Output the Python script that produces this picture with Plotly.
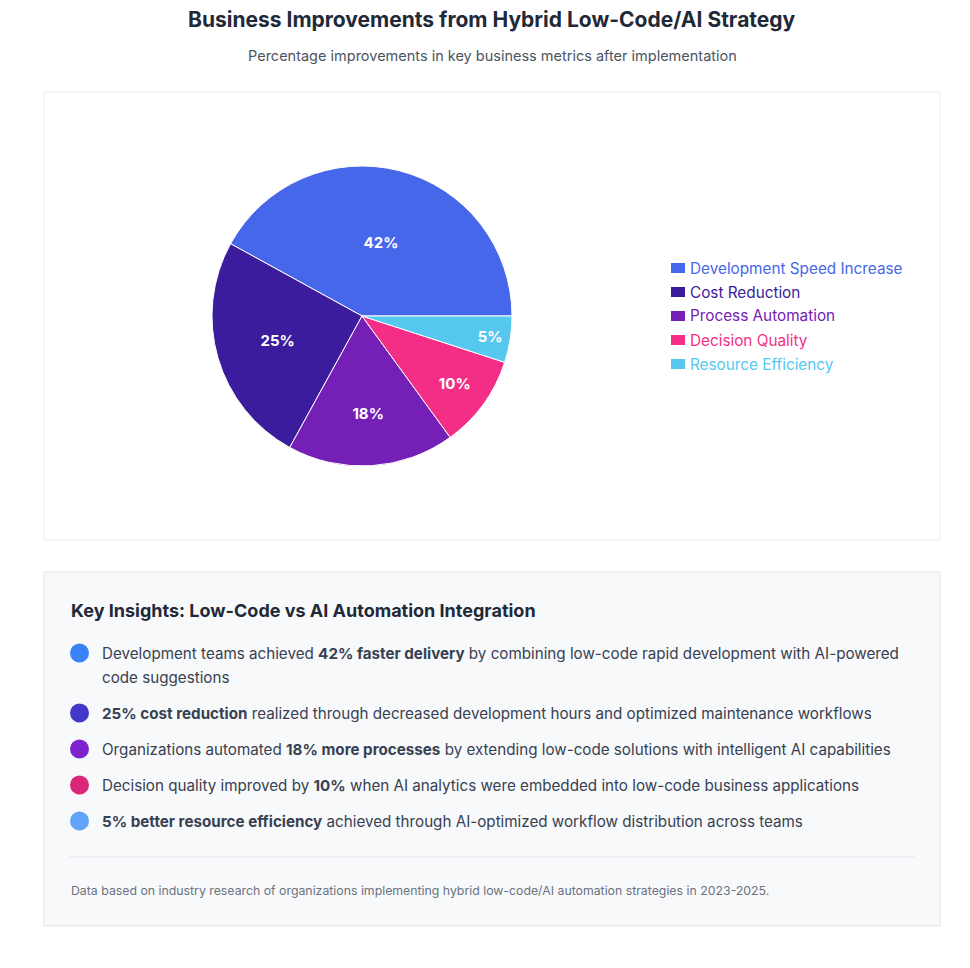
import plotly.graph_objects as go

W, H = 970, 968
labels = ["Development Speed Increase", "Cost Reduction", "Process Automation", "Decision Quality", "Resource Efficiency"]
values = [42, 25, 18, 10, 5]
colors = ["#4767ea", "#3a1c9c", "#7420b6", "#f42e86", "#56c8ef"]
insight_colors = ["#3b82f6", "#4338ca", "#7e22ce", "#db2777", "#60a5fa"]
insights = [
    "Development teams achieved <b>42% faster delivery</b> by combining low-code rapid development with AI-powered",
    "<b>25% cost reduction</b> realized through decreased development hours and optimized maintenance workflows",
    "Organizations automated <b>18% more processes</b> by extending low-code solutions with intelligent AI capabilities",
    "Decision quality improved by <b>10%</b> when AI analytics were embedded into low-code business applications",
    "<b>5% better resource efficiency</b> achieved through AI-optimized workflow distribution across teams",
]
insight_wrap = "code suggestions"
insight_y = [653, 713, 749, 785, 821]

OFF = 8
def px(x): return (x - OFF) / W
def py(y): return 1 - (y - OFF) / H

FONT = "Inter, Roboto, sans-serif"
rot = 90 - 360 * values[0] / sum(values)
fig = go.Figure(go.Pie(
    labels=labels, values=values, sort=False, direction="counterclockwise", rotation=rot,
    marker=dict(colors=colors, line=dict(color="white", width=1)),
    texttemplate="%{value}%", textposition="inside", insidetextorientation="horizontal",
    textfont=dict(color="white", size=15, family=FONT, weight="bold"),
    domain=dict(x=[px(212), px(512)], y=[py(466), py(166)]),
    showlegend=False, hoverinfo="label+percent",
))

shapes = [
    dict(type="rect", xref="paper", yref="paper", x0=px(44), x1=px(940), y0=py(540), y1=py(92),
         fillcolor="white", line=dict(color="#e9ebef", width=1), layer="below"),
    dict(type="rect", xref="paper", yref="paper", x0=px(44), x1=px(940), y0=py(926), y1=py(572),
         fillcolor="#f8f9fb", line=dict(color="#e2e5ea", width=1), layer="below"),
    dict(type="line", xref="paper", yref="paper", x0=px(69), x1=px(915), y0=py(857), y1=py(857),
         line=dict(color="#e2e5ea", width=1)),
]
ann = [
    dict(text="<b>Business Improvements from Hybrid Low-Code/AI Strategy</b>", x=px(492), y=py(20),
         font=dict(size=21, color="#1f2937")),
    dict(text="Percentage improvements in key business metrics after implementation", x=px(492), y=py(56),
         font=dict(size=14.5, color="#4b5563")),
    dict(text="<b>Key Insights: Low-Code vs AI Automation Integration</b>", x=px(69), y=py(610), xanchor="left",
         font=dict(size=18, color="#1f2937")),
    dict(text="Data based on industry research of organizations implementing hybrid low-code/AI automation strategies in 2023-2025.",
         x=px(69), y=py(890), xanchor="left", font=dict(size=12.3, color="#6b7280")),
    dict(text=insight_wrap, x=px(100), y=py(677), xanchor="left", font=dict(size=15.2, color="#374151")),
]
for i, (lab, c) in enumerate(zip(labels, colors)):
    yy = 268 + 24 * i
    shapes.append(dict(type="rect", xref="paper", yref="paper", x0=px(671), x1=px(685),
                       y0=py(yy + 5), y1=py(yy - 5), fillcolor=c, line=dict(width=0)))
    ann.append(dict(text=lab, x=px(688), y=py(yy), xanchor="left", font=dict(size=15.3, color=c)))
for txt, c, yy in zip(insights, insight_colors, insight_y):
    shapes.append(dict(type="circle", xref="paper", yref="paper", x0=px(70), x1=px(89),
                       y0=py(yy + 9.5), y1=py(yy - 9.5), fillcolor=c, line=dict(width=0)))
    ann.append(dict(text=txt, x=px(100), y=py(yy), xanchor="left", align="left",
                    font=dict(size=15.2, color="#374151")))
for a in ann:
    a.update(xref="paper", yref="paper", showarrow=False)
    a.setdefault("yanchor", "middle")
    a.setdefault("xanchor", "center")

fig.update_layout(width=W, height=H, margin=dict(l=0, r=0, t=0, b=0),
                  paper_bgcolor="white", plot_bgcolor="white",
                  font=dict(family=FONT), shapes=shapes, annotations=ann)
fig.write_html("out.html")
